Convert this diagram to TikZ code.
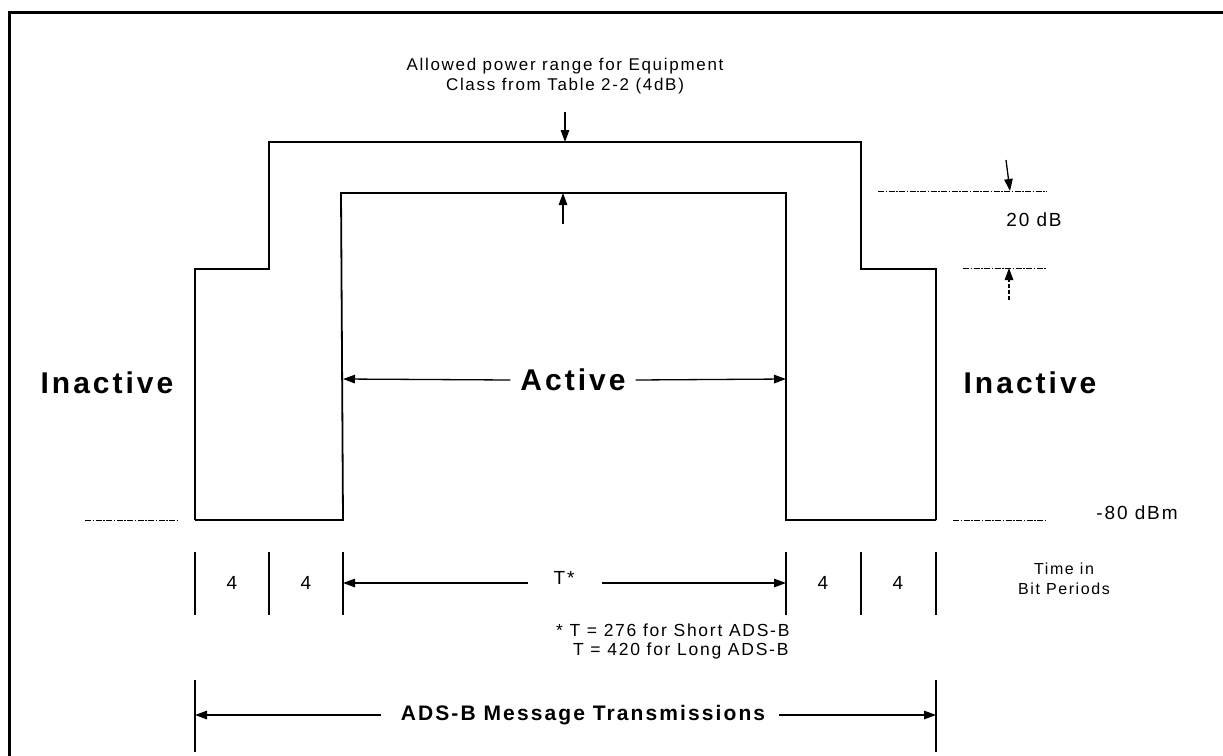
\documentclass[tikz,border=0pt]{standalone}
\usepackage{fontspec}
\setmainfont{Liberation Sans}
\newfontfamily\lab[LetterSpace=10]{Liberation Sans}
\usetikzlibrary{arrows.meta}
\tikzset{
  wave/.style={line width=1.8pt},
  dim/.style={line width=1.3pt,-{Triangle[length=12pt,width=8.5pt]}},
  tickln/.style={line width=1.3pt},
  dd/.style={line width=1pt,dash pattern=on 6pt off 1.5pt on 1.5pt off 1.5pt},
  txt/.style={inner sep=0pt,font=\lab\fontsize{17}{20}\selectfont,align=center},
  big/.style={inner sep=0pt,font=\lab\bfseries\fontsize{30}{34}\selectfont},
}
\begin{document}
\begin{tikzpicture}[x=1pt,y=-1pt]
\useasboundingbox (0,0) rectangle (1223,755);
% frame (only top and left edges visible)
\draw[line width=3pt] (9,770) -- (9,12) -- (1240,12);
% outer envelope
\draw[wave] (195,520) -- (195,269) -- (269,269) -- (269,142) -- (861,142) -- (861,269) -- (936,269) -- (936,520);
% inner envelope
\draw[wave] (195,520) -- (343,520) -- (341,193) -- (786,193) -- (786,520) -- (936,520);
% top label
\node[txt] (allowed) at (565,76) {Allowed power range for Equipment\\Class from Table 2-2 (4dB)};
\coordinate (dtop) at (565,112);
\coordinate (dbot) at (565,142);
\draw[dim] (dtop) -- (dbot);
\coordinate (utop) at (563,224);
\coordinate (ubot) at (563,193);
\draw[dim] (utop) -- (ubot);
% 20 dB
\coordinate (d1a) at (878,191); \coordinate (d1b) at (1047,191);
\draw[dd] (d1a) -- (d1b);
\coordinate (d2a) at (963,268); \coordinate (d2b) at (1047,268);
\draw[dd] (d2a) -- (d2b);
\coordinate (a1s) at (1006,160); \coordinate (a1e) at (1010,191);
\draw[dim] (a1s) -- (a1e);
\coordinate (a2s) at (1009,300); \coordinate (a2e) at (1009,268);
\draw[dim,dash pattern=on 4pt off 2pt] (a2s) -- (a2e);
\node[txt,font=\lab\fontsize{19}{22}\selectfont] (twenty) at (1034,220) {20 dB};
% inactive / active
\node[big] (inL) at (107,383) {Inactive};
\node[big] (inR) at (1030,383) {Inactive};
\node[big] (act) at (573,380) {Active};
\coordinate (actL) at (343,379); \coordinate (actR) at (786,379);
\draw[dim] (act.west) ++(-10,0) -- (actL);
\draw[dim] (act.east) ++(10,0) -- (actR);
% -80 dBm
\coordinate (m1a) at (85,520); \coordinate (m1b) at (177,520);
\draw[dd] (m1a) -- (m1b);
\coordinate (m2a) at (953,520); \coordinate (m2b) at (1047,520);
\draw[dd] (m2a) -- (m2b);
\node[txt,font=\lab\fontsize{19}{22}\selectfont] (m80) at (1137,513) {-80 dBm};
% ticks
\foreach \x/\n in {195/t1,269/t2,343/t3,786/t4,861/t5,936/t6}{
  \coordinate (\n a) at (\x,552);
  \coordinate (\n b) at (\x,615);
  \draw[tickln] (\n a) -- (\n b);
}
\node[txt,font=\lab\fontsize{19}{22}\selectfont] (f1) at (232,583) {4};
\node[txt,font=\lab\fontsize{19}{22}\selectfont] (f2) at (306,583) {4};
\node[txt,font=\lab\fontsize{19}{22}\selectfont] (f3) at (823,583) {4};
\node[txt,font=\lab\fontsize{19}{22}\selectfont] (f4) at (898,583) {4};
\node[txt,font=\lab\fontsize{19}{22}\selectfont] (tstar) at (564,578) {T*};
\coordinate (tL) at (343,583); \coordinate (tR) at (786,583);
\draw[dim] (528,583) -- (tL);
\draw[dim] (602,583) -- (tR);
\node[txt,font=\lab\fontsize{16}{20}\selectfont] (time) at (1064,579) {Time in\\Bit Periods};
% footnote
\node[txt,anchor=west,font=\lab\fontsize{17.5}{20}\selectfont] (fn1) at (556,630) {* T = 276 for Short ADS-B};
\node[txt,anchor=west,font=\lab\fontsize{17.5}{20}\selectfont] (fn2) at (573,651) {T = 420 for Long ADS-B};
% message transmissions
\coordinate (b1a) at (195,680); \coordinate (b1b) at (195,752);
\coordinate (b2a) at (936,680); \coordinate (b2b) at (936,752);
\draw[tickln] (b1a) -- (b1b);
\draw[tickln] (b2a) -- (b2b);
\node[inner sep=0pt,font=\lab\bfseries\fontsize{21}{24}\selectfont] (ads) at (583,715) {ADS-B Message Transmissions};
\coordinate (bL) at (195,715); \coordinate (bR) at (936,715);
\draw[dim] (381,715) -- (bL);
\draw[dim] (779,715) -- (bR);
\end{tikzpicture}
\end{document}
